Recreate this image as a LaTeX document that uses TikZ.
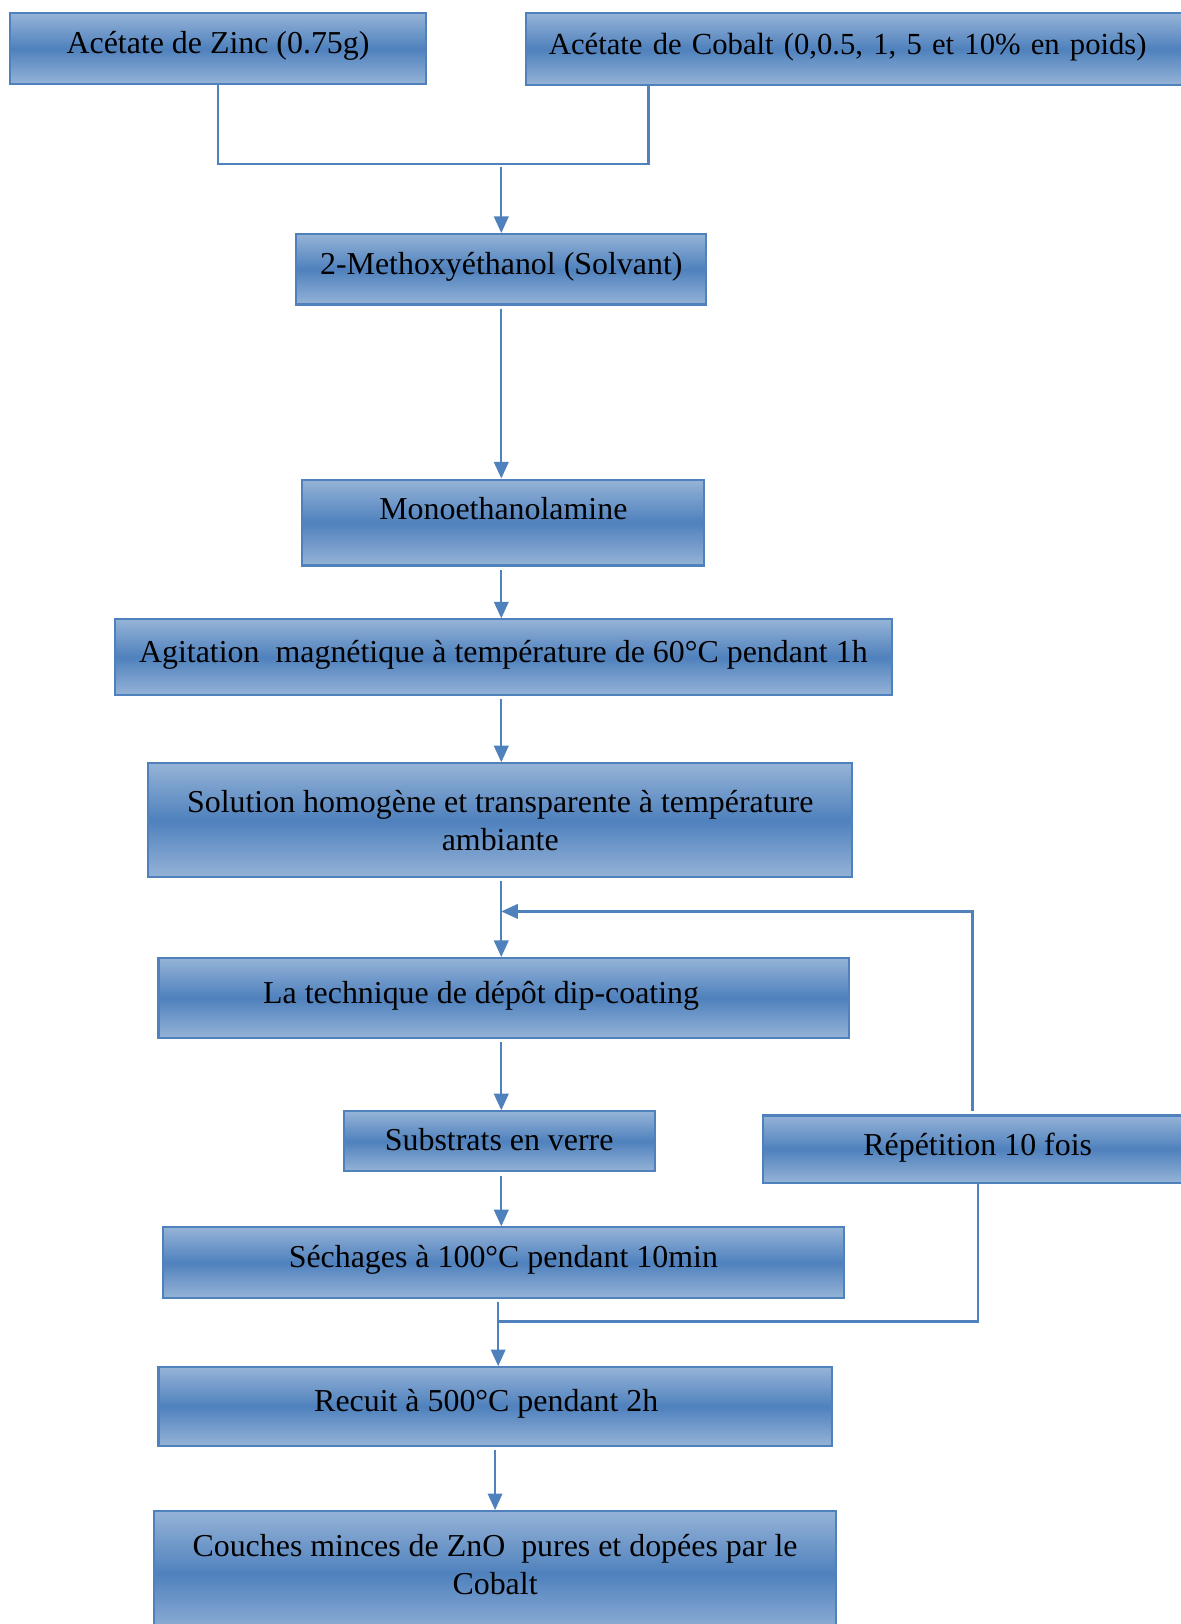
\documentclass[tikz,border=0pt]{standalone}
\usepackage{fontspec}
\setmainfont{Liberation Serif}
\usetikzlibrary{arrows.meta, calc, positioning}
\definecolor{bordbleu}{RGB}{79,129,189}
\definecolor{clairbleu}{RGB}{149,179,215}
\definecolor{foncebleu}{RGB}{79,129,189}

\begin{document}
\begin{tikzpicture}[x=0.5pt, y=-0.5pt, >={Triangle[width=7pt,length=8pt]},
  etape/.style={draw=bordbleu, line width=1pt, top color=clairbleu, bottom color=clairbleu,
    middle color=foncebleu, inner sep=0pt, align=center, font=\fontsize{15.4}{18.5}\selectfont},
  une/.style={text height=10.5pt, text depth=#1}, une/.default=5.5pt,
  trait/.style={draw=bordbleu, line width=1.1pt},
  fleche/.style={trait, ->, shorten <=1.5pt}]
  \useasboundingbox (0,0) rectangle (1140,1568);

  \node[etape, une, minimum width=200.5pt, minimum height=34pt] (zinc) at (210.5,47) {Acétate de Zinc (0.75g)};
  \node[etape, une, minimum height=34.5pt, text width=310pt, inner xsep=11pt, align=left,
    font=\fontsize{14.8}{18.5}\selectfont] (cobalt) at (840,47.5)
    {Acétate de Cobalt (0,0.5, 1, 5 et 10\% en poids)};
  \node[etape, une, minimum width=198pt, minimum height=34pt] (solvant) at (484,260) {2-Methoxyéthanol (Solvant)};
  \node[etape, une=13.5pt, minimum width=194pt, minimum height=41.5pt] (mea) at (486,504.5) {Monoethanolamine};
  \node[etape, une, minimum width=375pt, minimum height=36.5pt] (agitation) at (486,634.5)
    {Agitation\ \ magnétique à température de 60°C pendant 1h};
  \node[etape, minimum width=340pt, minimum height=55pt] (solution) at (483,792)
    {Solution homogène et transparente à température\\ambiante};
  \node[etape, une, minimum width=333.5pt, minimum height=38.5pt] (dip) at (486.5,963.5)
    {La technique de dépôt dip-coating\hspace*{22pt}};
  \node[etape, une=1.5pt, minimum width=150pt, minimum height=29pt] (substrat) at (482,1102) {Substrats en verre};
  \node[etape, une=4pt, minimum width=207pt, minimum height=32.5pt] (repetition) at (944,1109.5) {Répétition 10 fois};
  \node[etape, une, minimum width=329pt, minimum height=34pt] (sechage) at (486,1219) {Séchages à 100°C pendant 10min};
  \node[etape, une, minimum width=325pt, minimum height=38pt] (recuit) at (478,1358) {Recuit à 500°C pendant 2h\hspace*{8.5pt}};
  \node[etape, text depth=9pt, minimum width=329pt, minimum height=60.5pt] (couches) at (478,1519.5)
    {Couches minces de ZnO\ \ pures et dopées par le\\Cobalt};

  \coordinate (jonction) at (484,158);
  \coordinate (retour) at (484,880);
  \coordinate (reunion) at (481,1276);

  \draw[trait] (zinc) |- (jonction);
  \draw[trait] ($(cobalt.south west)+(119,0)$) |- (jonction);
  \draw[fleche] (jonction) -- (solvant);
  \draw[fleche] (solvant.south -| jonction) -- (mea.north -| jonction);
  \draw[fleche] (mea.south -| jonction) -- (agitation.north -| jonction);
  \draw[fleche] (agitation.south -| jonction) -- (solution.north -| jonction);
  \draw[fleche] (solution.south -| jonction) -- (dip.north -| jonction);
  \draw[fleche] ([xshift=-2.5pt]repetition.north) |- (retour);
  \draw[fleche] (dip.south -| jonction) -- (substrat.north -| jonction);
  \draw[fleche] (substrat.south -| jonction) -- (sechage.north -| jonction);
  \draw[trait] (repetition.south) |- (reunion);
  \draw[fleche] (sechage.south -| reunion) -- (recuit.north -| reunion);
  \draw[fleche] (recuit) -- (couches);
\end{tikzpicture}
\end{document}
